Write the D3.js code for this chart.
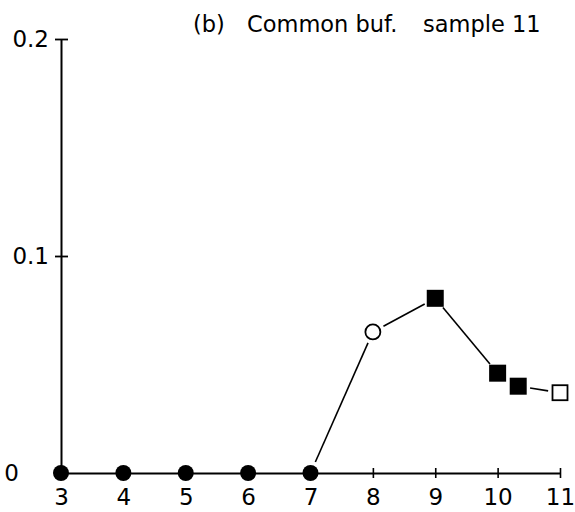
<!DOCTYPE html>
<html><head><meta charset="utf-8">
<script src="https://cdn.jsdelivr.net/npm/d3@7"></script>
<style>body{margin:0;background:#fff}svg{display:block}text{font-family:"DejaVu Sans",sans-serif;fill:#000}</style>
</head><body>
<script>
const xValues = [3, 4, 5, 6, 7, 8, 9, 10, 10.33, 11];
const yValues = [0, 0, 0, 0, 0, 0.065, 0.0805, 0.046, 0.040, 0.037];
const markerTypes = ["filledCircle","filledCircle","filledCircle","filledCircle","filledCircle","openCircle","filledSquare","filledSquare","filledSquare","openSquare"];
const xTicks = [3, 4, 5, 6, 7, 8, 9, 10, 11];
const yTicks = [0, 0.1, 0.2];
const yTickLabels = ["0", "0.1", "0.2"];
const titleParts = ["(b)", "Common buf.", "sample 11"];

const W = 575, H = 512;
const svg = d3.select("body").append("svg").attr("width", W).attr("height", H);
const x = d3.scaleLinear().domain([3, 11]).range([61, 560]);
const y = d3.scaleLinear().domain([0, 0.2]).range([473, 39]);

// axes
const xAxis = d3.axisBottom(x).tickValues(xTicks).tickSizeInner(5).tickSizeOuter(0).tickPadding(10).tickFormat(d3.format("d"));
const gx = svg.append("g").attr("transform", `translate(0,${y(0)})`).call(xAxis);
gx.select(".domain").attr("stroke-width", 2);
gx.selectAll(".tick line").attr("y1", -5).attr("stroke-width", 1.6);
gx.selectAll(".tick text").attr("font-size", 23).attr("font-family", "DejaVu Sans").attr("dy", "0.73em");

const yAxis = d3.axisLeft(y).tickValues(yTicks).tickSizeInner(6).tickSizeOuter(0).tickPadding(10)
  .tickFormat((d, i) => yTickLabels[i]);
const gy = svg.append("g").attr("transform", `translate(${x(3)},0)`).call(yAxis);
gy.select(".domain").attr("stroke-width", 2);
gy.selectAll(".tick line").attr("x2", d => d === 0 ? 0 : 7).attr("x1", d => d === 0 ? 0 : -6).attr("stroke-width", 1.8);
gy.selectAll(".tick text").attr("font-size", 23).attr("font-family", "DejaVu Sans")
  .attr("x", d => d === 0 ? -42 : -12);

// connecting lines, shortened near the markers
const pts = xValues.map((v, i) => ({ px: x(v), py: y(yValues[i]), t: markerTypes[i] }));
const segs = [];
for (let i = 0; i < pts.length - 1; i++) {
  const a = pts[i], b = pts[i + 1];
  if (a.py === y(0) && b.py === y(0)) continue;
  const dx = b.px - a.px, dy = b.py - a.py, L = Math.hypot(dx, dy);
  const gap = 12;
  if (L < 2 * gap + 2) continue;
  segs.push({ x1: a.px + dx / L * gap, y1: a.py + dy / L * gap, x2: b.px - dx / L * gap, y2: b.py - dy / L * gap });
}
svg.append("g").selectAll("line").data(segs).join("line")
  .attr("x1", d => d.x1).attr("y1", d => d.y1).attr("x2", d => d.x2).attr("y2", d => d.y2)
  .attr("stroke", "#000").attr("stroke-width", 1.6);

// markers
const mg = svg.append("g");
pts.forEach(p => {
  if (p.t === "filledCircle") mg.append("circle").attr("cx", p.px).attr("cy", p.py).attr("r", 8).attr("fill", "#000");
  else if (p.t === "openCircle") mg.append("circle").attr("cx", p.px).attr("cy", p.py).attr("r", 7.5).attr("fill", "#fff").attr("stroke", "#000").attr("stroke-width", 1.8);
  else if (p.t === "filledSquare") mg.append("rect").attr("x", p.px - 8.5).attr("y", p.py - 8.5).attr("width", 17).attr("height", 17).attr("fill", "#000");
  else mg.append("rect").attr("x", p.px - 7.5).attr("y", p.py - 7.5).attr("width", 15).attr("height", 15).attr("fill", "#fff").attr("stroke", "#000").attr("stroke-width", 1.8);
});

// title
const tx = [193, 247, 423];
svg.append("g").selectAll("text").data(titleParts).join("text")
  .attr("x", (d, i) => tx[i]).attr("y", 32).attr("font-size", 22.5).text(d => d);
</script>
</body></html>
